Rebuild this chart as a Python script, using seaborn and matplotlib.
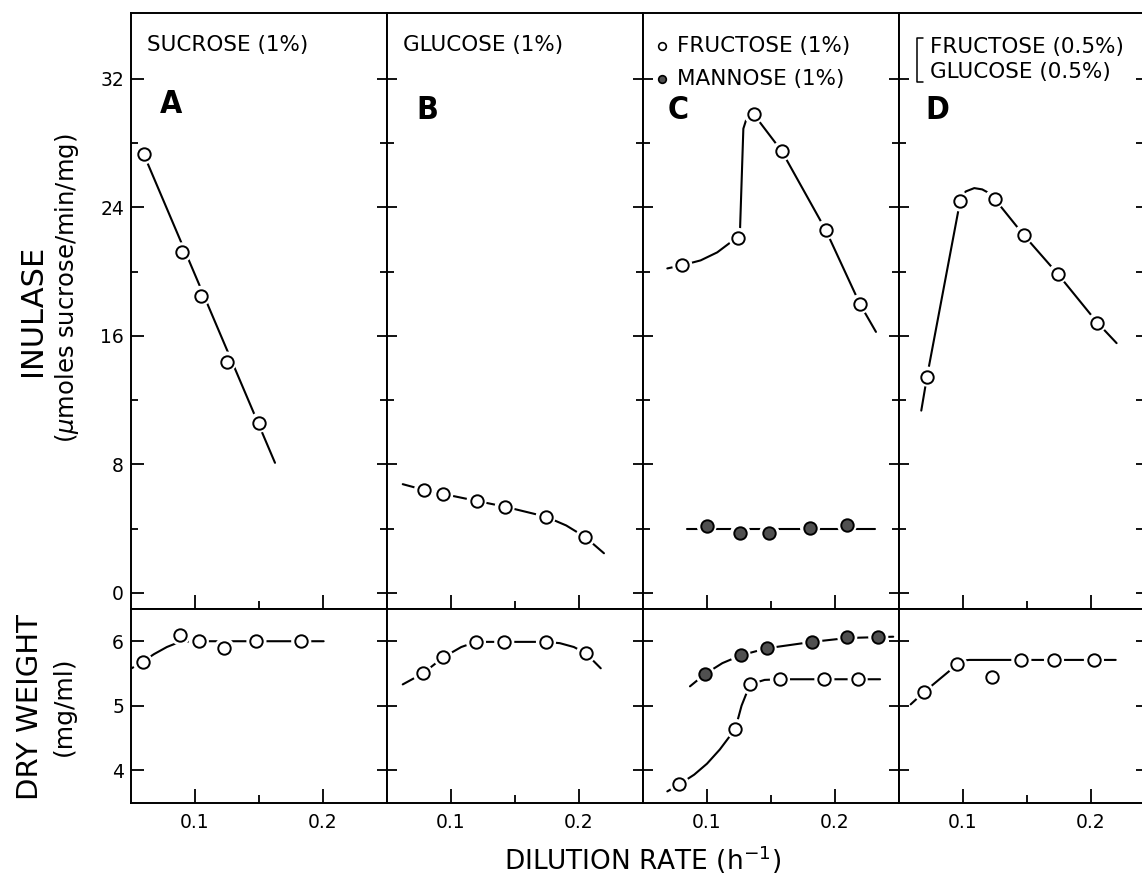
import matplotlib
matplotlib.use("Agg")
import matplotlib.pyplot as plt
import seaborn as sns

# ---------------- data ----------------
X_TICKS = [0.1, 0.2]
X_TICK_LABELS = ["0.1", "0.2"]
X_MINOR = [0.15]
INU_TICKS = [0, 8, 16, 24, 32]
INU_TICK_LABELS = ["0", "8", "16", "24", "32"]
INU_MINOR = [4, 12, 20, 28]
DW_TICKS = [4, 5, 6]
DW_TICK_LABELS = ["4", "5", "6"]

# Panel A  sucrose (1%)
a_inu_x = [0.060, 0.090, 0.105, 0.125, 0.150]
a_inu_y = [27.3, 21.2, 18.5, 14.4, 10.6]
a_inu_fit_x = [0.060, 0.1625]
a_inu_fit_y = [27.3, 8.1]
a_dw_x = [0.059, 0.0885, 0.103, 0.123, 0.148, 0.183]
a_dw_y = [5.68, 6.09, 6.00, 5.90, 6.00, 6.00]
a_dw_fit_x = [0.0505, 0.059, 0.068, 0.078, 0.088, 0.100, 0.2005]
a_dw_fit_y = [5.58, 5.68, 5.80, 5.91, 5.99, 6.00, 6.00]

# Panel B  glucose (1%)
b_inu_x = [0.079, 0.094, 0.120, 0.142, 0.174, 0.205]
b_inu_y = [6.41, 6.16, 5.73, 5.37, 4.75, 3.47]
b_inu_fit_x = [0.0623, 0.079, 0.094, 0.120, 0.142, 0.174, 0.190, 0.205, 0.2195]
b_inu_fit_y = [6.77, 6.41, 6.16, 5.73, 5.37, 4.75, 4.20, 3.47, 2.47]
b_dw_x = [0.078, 0.094, 0.1195, 0.1416, 0.1742, 0.2055]
b_dw_y = [5.50, 5.75, 5.99, 5.99, 5.99, 5.81]
b_dw_fit_x = [0.0623, 0.078, 0.094, 0.108, 0.1195, 0.1742, 0.185, 0.196, 0.2055, 0.217]
b_dw_fit_y = [5.33, 5.50, 5.75, 5.91, 5.99, 5.99, 5.97, 5.91, 5.81, 5.58]

# Panel C  fructose (1%) open, mannose (1%) filled
c_fru_inu_x = [0.0807, 0.1245, 0.1365, 0.1584, 0.1927, 0.2195]
c_fru_inu_y = [20.4, 22.1, 29.8, 27.5, 22.6, 17.98]
c_fru_inu_fit_x = [0.069, 0.0807, 0.095, 0.108, 0.118, 0.1258, 0.1284, 0.131, 0.1365, 0.1584, 0.1927, 0.2195, 0.232]
c_fru_inu_fit_y = [20.2, 20.4, 20.7, 21.2, 21.8, 22.6, 28.9, 29.55, 29.8, 27.5, 22.6, 17.98, 16.25]
c_man_inu_x = [0.0998, 0.126, 0.1487, 0.1805, 0.2094]
c_man_inu_y = [4.19, 3.75, 3.75, 4.07, 4.25]
c_man_inu_fit_x = [0.084, 0.231]
c_man_inu_fit_y = [3.97, 3.97]
c_fru_dw_x = [0.0784, 0.1221, 0.1336, 0.157, 0.1917, 0.2177]
c_fru_dw_y = [3.78, 4.64, 5.33, 5.41, 5.41, 5.41]
c_fru_dw_fit_x = [0.069, 0.0784, 0.090, 0.100, 0.110, 0.1221, 0.127, 0.1336, 0.145, 0.157, 0.2352]
c_fru_dw_fit_y = [3.67, 3.78, 3.93, 4.10, 4.32, 4.64, 5.00, 5.33, 5.40, 5.41, 5.41]
c_man_dw_x = [0.0984, 0.1263, 0.1466, 0.1823, 0.2096, 0.2338]
c_man_dw_y = [5.49, 5.78, 5.89, 5.99, 6.07, 6.07]
c_man_dw_fit_x = [0.0867, 0.0984, 0.112, 0.1263, 0.1466, 0.1823, 0.2096, 0.2455]
c_man_dw_fit_y = [5.30, 5.49, 5.66, 5.78, 5.89, 5.99, 6.05, 6.07]

# Panel D  fructose (0.5%) + glucose (0.5%)
d_inu_x = [0.0719, 0.0977, 0.1247, 0.1473, 0.174, 0.2049]
d_inu_y = [13.47, 24.37, 24.53, 22.29, 19.86, 16.83]
d_inu_fit_x = [0.0674, 0.0719, 0.0977, 0.1021, 0.1088, 0.1150, 0.1203, 0.1247, 0.1473, 0.174, 0.2049, 0.2200]
d_inu_fit_y = [11.35, 13.47, 24.37, 24.99, 25.20, 25.12, 24.89, 24.53, 22.29, 19.86, 16.83, 15.55]
d_dw_x = [0.0695, 0.0955, 0.1224, 0.1456, 0.1711, 0.2023]
d_dw_y = [5.21, 5.64, 5.45, 5.71, 5.71, 5.71]
d_dw_fit_x = [0.0591, 0.0695, 0.0955, 0.1000, 0.1050, 0.2193]
d_dw_fit_y = [5.02, 5.21, 5.64, 5.70, 5.71, 5.71]

PANEL_LETTERS = ["A", "B", "C", "D"]
TITLES = ["SUCROSE (1%)", "GLUCOSE (1%)"]
C_LEGEND = ["FRUCTOSE (1%)", "MANNOSE (1%)"]
D_LEGEND = ["FRUCTOSE (0.5%)", "GLUCOSE (0.5%)"]

# ---------------- styling ----------------
sns.set_theme(style="ticks")
plt.rcParams["font.family"] = ["DejaVu Sans"]
plt.rcParams["mathtext.fontset"] = "dejavusans"
plt.rcParams["axes.linewidth"] = 1.4
plt.rcParams["text.color"] = "black"
plt.rcParams["axes.edgecolor"] = "black"
plt.rcParams["axes.labelcolor"] = "black"
plt.rcParams["xtick.color"] = "black"
plt.rcParams["ytick.color"] = "black"
plt.rcParams["xtick.labelcolor"] = "black"
plt.rcParams["ytick.labelcolor"] = "black"

W, H = 1142, 877
fig = plt.figure(figsize=(W / 100, H / 100), dpi=100)

col_left = [131, 387, 643, 899]
col_w = 256
TOP = (13, 609)
BOT = (609, 803)


def px_axes(x0, y0, y1):
    return fig.add_axes([x0 / W, 1 - y1 / H, col_w / W, (y1 - y0) / H])


OPEN = "white"
FILLED = "#505050"


def draw(ax, px, py, fx, fy, fill=OPEN):
    sns.lineplot(x=fx, y=fy, ax=ax, color="black", lw=1.5, sort=False,
                 estimator=None, zorder=2)
    sns.scatterplot(x=px, y=py, ax=ax, s=210, color="white", edgecolor="none",
                    linewidth=0, zorder=3)
    sns.scatterplot(x=px, y=py, ax=ax, s=80, color=fill, edgecolor="black",
                    linewidth=1.4, zorder=4)


top_axes = [px_axes(x, *TOP) for x in col_left]
bot_axes = [px_axes(x, *BOT) for x in col_left]

draw(top_axes[0], a_inu_x, a_inu_y, a_inu_fit_x, a_inu_fit_y)
draw(bot_axes[0], a_dw_x, a_dw_y, a_dw_fit_x, a_dw_fit_y)
draw(top_axes[1], b_inu_x, b_inu_y, b_inu_fit_x, b_inu_fit_y)
draw(bot_axes[1], b_dw_x, b_dw_y, b_dw_fit_x, b_dw_fit_y)
draw(top_axes[2], c_fru_inu_x, c_fru_inu_y, c_fru_inu_fit_x, c_fru_inu_fit_y)
draw(top_axes[2], c_man_inu_x, c_man_inu_y, c_man_inu_fit_x, c_man_inu_fit_y, FILLED)
draw(bot_axes[2], c_fru_dw_x, c_fru_dw_y, c_fru_dw_fit_x, c_fru_dw_fit_y)
draw(bot_axes[2], c_man_dw_x, c_man_dw_y, c_man_dw_fit_x, c_man_dw_fit_y, FILLED)
draw(top_axes[3], d_inu_x, d_inu_y, d_inu_fit_x, d_inu_fit_y)
draw(bot_axes[3], d_dw_x, d_dw_y, d_dw_fit_x, d_dw_fit_y)

for row, axes in enumerate([top_axes, bot_axes]):
    for i, ax in enumerate(axes):
        ax.set_xlabel("")
        ax.set_ylabel("")
        ax.set_xlim(0.05, 0.25)
        ax.set_xticks(X_TICKS)
        ax.set_xticks(X_MINOR, minor=True)
        ax.tick_params(axis="x", which="both", direction="in", width=1.3,
                       labelsize=13.5, pad=7, bottom=True, top=False,
                       colors="black")
        ax.tick_params(axis="x", which="major", length=10)
        ax.tick_params(axis="x", which="minor", length=5.5)
        if row == 0:
            ax.set_ylim(-1, 36.1)
            ax.set_yticks(INU_TICKS)
            ax.set_yticks(INU_MINOR, minor=True)
            ax.tick_params(axis="x", labelbottom=False)
            yt_labels = INU_TICK_LABELS
        else:
            ax.set_ylim(3.49, 6.5)
            ax.set_yticks(DW_TICKS)
            ax.set_xticklabels(X_TICK_LABELS)
            yt_labels = DW_TICK_LABELS
        if i == 0:
            ax.set_yticklabels(yt_labels)
            ax.tick_params(axis="y", which="both", direction="in", width=1.3,
                           labelsize=13.5, pad=5, colors="black")
            ax.tick_params(axis="y", which="major", length=9.5)
            ax.tick_params(axis="y", which="minor", length=5)
        else:
            ax.tick_params(axis="y", which="both", direction="inout", width=1.3,
                           labelleft=False, colors="black")
            ax.tick_params(axis="y", which="major", length=14)
            ax.tick_params(axis="y", which="minor", length=10)
        for sp in ax.spines.values():
            sp.set_linewidth(1.4)
            sp.set_color("black")
        if i == 3:
            sec = ax.secondary_yaxis("right")
            sec.set_yticks(INU_TICKS if row == 0 else DW_TICKS)
            if row == 0:
                sec.set_yticks(INU_MINOR, minor=True)
            sec.tick_params(axis="y", which="both", direction="in", width=1.3,
                            length=14, labelright=False, colors="black")

# panel titles / legends
for i in range(2):
    top_axes[i].text(0.0625, 0.946, TITLES[i], transform=top_axes[i].transAxes,
                     fontsize=15.5, ha="left", va="center", color="black")

axc = top_axes[2]
axc.plot([0.073], [0.945], marker="o", ms=5.5, mfc="white", mec="black", mew=1.2,
         transform=axc.transAxes, clip_on=False)
axc.plot([0.073], [0.889], marker="o", ms=5.5, mfc=FILLED, mec="black", mew=1.2,
         transform=axc.transAxes, clip_on=False)
axc.text(0.131, 0.945, C_LEGEND[0], transform=axc.transAxes, fontsize=15.5,
         ha="left", va="center", color="black")
axc.text(0.131, 0.889, C_LEGEND[1], transform=axc.transAxes, fontsize=15.5,
         ha="left", va="center", color="black")

axd = top_axes[3]
axd.plot([0.094, 0.070, 0.070, 0.094], [0.958, 0.958, 0.884, 0.884], color="black",
         lw=1.1, transform=axd.transAxes, clip_on=False)
axd.text(0.121, 0.943, D_LEGEND[0], transform=axd.transAxes, fontsize=15.5,
         ha="left", va="center", color="black")
axd.text(0.121, 0.901, D_LEGEND[1], transform=axd.transAxes, fontsize=15.5,
         ha="left", va="center", color="black")

letter_pos = [(0.113, 0.846), (0.116, 0.836), (0.098, 0.836), (0.104, 0.836)]
for ax, letter, (lx, ly) in zip(top_axes, PANEL_LETTERS, letter_pos):
    ax.text(lx, ly, letter, transform=ax.transAxes, fontsize=23, fontweight="bold",
            family="DejaVu Sans", fontstretch="condensed", color="black",
            ha="left", va="center")

# axis labels
fig.text(32 / W, 1 - 310 / H, "INULASE", rotation=90, fontsize=22,
         ha="center", va="center", color="black")
fig.text(67 / W, 1 - 288 / H, "($\\mu$moles sucrose/min/mg)", rotation=90,
         fontsize=17.5, ha="center", va="center", color="black")
fig.text(30 / W, 1 - 707 / H, "DRY WEIGHT", rotation=90, fontsize=21,
         ha="center", va="center", color="black")
fig.text(64 / W, 1 - 706 / H, "(mg/ml)", rotation=90, fontsize=18,
         ha="center", va="center", color="black")
fig.text(643 / W, 1 - 860 / H, "DILUTION RATE (h$^{-1}$)", fontsize=19,
         ha="center", va="center", color="black")

fig.savefig("out.png", dpi=100)
